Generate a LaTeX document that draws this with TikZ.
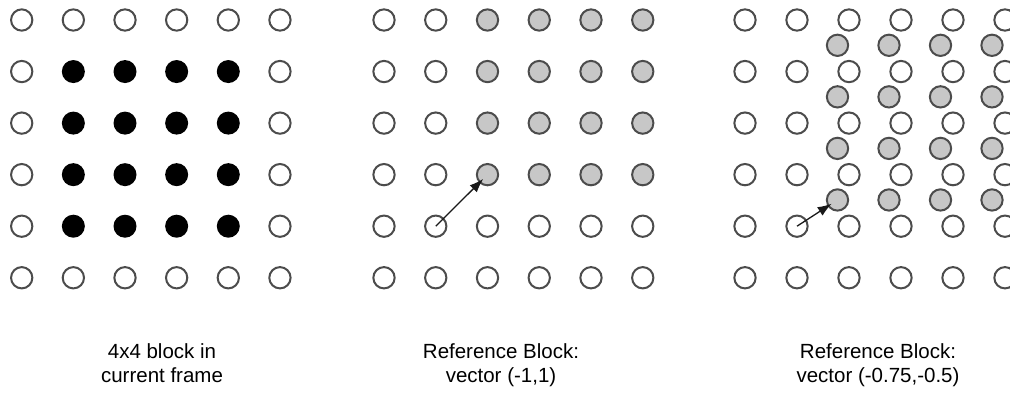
\documentclass[tikz,border=0pt]{standalone}
\usepackage{fontspec}
\setmainfont{Liberation Sans}
\usetikzlibrary{arrows.meta}
\begin{document}
\begin{tikzpicture}[x=1pt,y=-1pt,
  dot/.style={circle,draw=black!70,line width=2pt,minimum size=21.3pt,inner sep=0pt,fill=white},
  blk/.style={circle,fill=black,minimum size=23pt,inner sep=0pt},
  gdot/.style={dot,fill=black!22},
  lbl/.style={font=\fontsize{20.5}{24.5}\selectfont,align=center,inner sep=0pt},
  vec/.style={-{Latex[length=14pt,width=10pt]},line width=1.3pt,black!90}]
\clip (0,0) rectangle (1010,394);
% panel 1
\foreach \i in {0,...,5}{\foreach \j in {0,...,5}{
  \pgfmathtruncatemacro\inblk{(\i>0)&&(\i<5)&&(\j>0)&&(\j<5)}
  \ifnum\inblk=1
    \node[blk] (a\i\j) at ({21.7+\i*51.65},{20+\j*51.55}) {};
  \else
    \node[dot] (a\i\j) at ({21.7+\i*51.65},{20+\j*51.55}) {};
  \fi
}}
% panel 2
\foreach \i in {0,...,5}{\foreach \j in {0,...,5}{
  \pgfmathtruncatemacro\ingr{(\i>1)&&(\j<4)}
  \ifnum\ingr=1
    \node[gdot] (b\i\j) at ({384+\i*51.75},{20+\j*51.55}) {};
  \else
    \node[dot] (b\i\j) at ({384+\i*51.75},{20+\j*51.55}) {};
  \fi
}}
% panel 3
\foreach \i in {0,...,5}{\foreach \j in {0,...,5}{
  \node[dot] (c\i\j) at ({745+\i*52},{20+\j*51.55}) {};
}}
\foreach \i in {0,...,3}{\foreach \j in {0,...,3}{
  \node[gdot] (g\i\j) at ({837.5+\i*51.5},{45.3+\j*51.55}) {};
}}
% vectors
\draw[vec,shorten >=6pt] (b14.center) -- (b23.center);
\draw[vec,shorten >=7pt] (c14.center) -- (g03.center);
% labels
\node[lbl,anchor=base] (l1) at (162,382.5) {4x4 block in\\current frame};
\node[lbl,anchor=base] (l2) at (501,382.5) {Reference Block:\\vector (-1,1)};
\node[lbl,anchor=base] (l3) at (878,382.5) {Reference Block:\\vector (-0.75,-0.5)};
\end{tikzpicture}
\end{document}
